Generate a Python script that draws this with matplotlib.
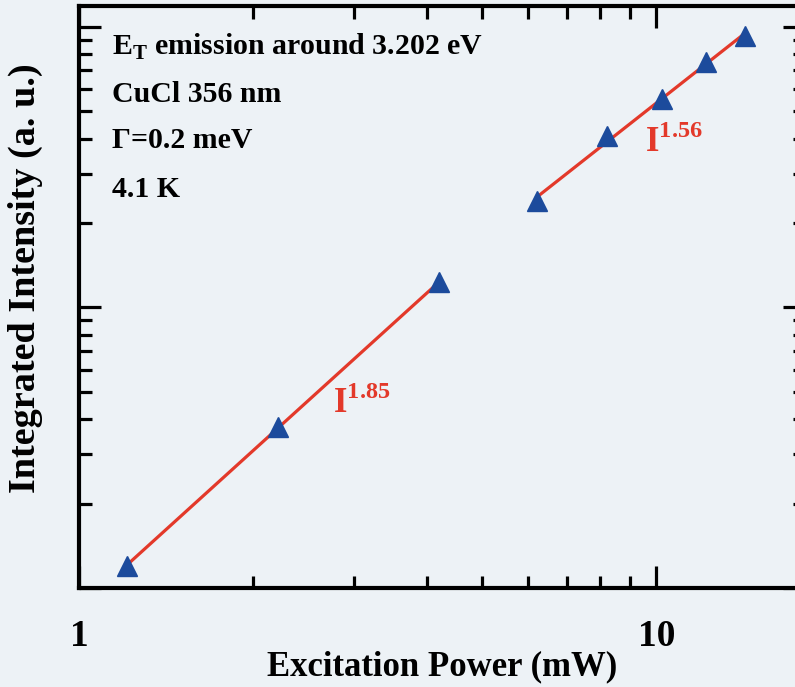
import numpy as np
import matplotlib
matplotlib.use('Agg')
import matplotlib.pyplot as plt

# values (arbitrary intensity units)
power_low = [1.21, 2.21, 4.21]
intensity_low = [1.20, 3.75, 12.3]
power_high = [6.22, 8.22, 10.24, 12.21, 14.27]
intensity_high = [24.0, 40.9, 55.4, 75.0, 92.9]

label_low = r'$\mathbf{I}^{\mathbf{1.85}}$'
label_high = r'$\mathbf{I}^{\mathbf{1.56}}$'
info = [r'$\mathbf{E}_{\mathbf{T}}$ emission around 3.202 eV', 'CuCl 356 nm',
        u'\u0393=0.2 meV', '4.1 K']

plt.rcParams['font.family'] = 'Liberation Serif'
plt.rcParams['font.weight'] = 'bold'
plt.rcParams['mathtext.fontset'] = 'custom'
plt.rcParams['mathtext.rm'] = 'Liberation Serif:bold'
plt.rcParams['mathtext.bf'] = 'Liberation Serif:bold'

bg = '#edf2f6'
blue = '#1c4b9c'
red = '#e3392a'

fig = plt.figure(figsize=(7.95, 6.87), dpi=100, facecolor=bg)
ax = fig.add_axes([79/795, 1-588/687, 726/795, 582/687])
ax.set_facecolor(bg)

def powerfit(x, y):
    k, a = np.polyfit(np.log10(x), np.log10(y), 1)
    xx = np.array([min(x), max(x)])
    return xx, 10**a * xx**k

for x, y in [(power_low, intensity_low), (power_high, intensity_high)]:
    xf, yf = powerfit(x, y)
    ax.plot(xf, yf, '-', color=red, lw=2.3, zorder=2)
    ax.plot(x, y, '^', color=blue, ms=15, mec=blue, zorder=3)

ax.set_xscale('log')
ax.set_yscale('log')
ax.set_xlim(1, 18.1)
ax.set_ylim(1, 118.8)

ax.tick_params(which='both', direction='in', top=True, right=True, width=2.3)
ax.tick_params(which='major', length=16, labelsize=27, pad=22)
ax.tick_params(which='minor', length=9)
ax.tick_params(axis='y', which='both', labelleft=False)
ax.set_xticks([1, 10])
ax.set_xticklabels(['1', '10'])
for s in ax.spines.values():
    s.set_linewidth(3)

ax.set_xlabel('Excitation Power (mW)', fontsize=25, fontweight='bold', labelpad=-2)
ax.set_ylabel('Integrated Intensity (a. u.)', fontsize=27.5, fontweight='bold')
ax.yaxis.set_label_coords(-0.05, 0.533)

for txt, yy in zip(info, [0.916, 0.835, 0.756, 0.672]):
    ax.text(0.0455, yy, txt, transform=ax.transAxes, fontsize=21.5,
            fontweight='bold', va='baseline', ha='left')

ax.text(0.35, 0.301, label_low, transform=ax.transAxes, fontsize=25,
        color=red, va='baseline')
ax.text(0.78, 0.749, label_high, transform=ax.transAxes, fontsize=25,
        color=red, va='baseline')

plt.savefig('out.png', dpi=100, facecolor=bg)
